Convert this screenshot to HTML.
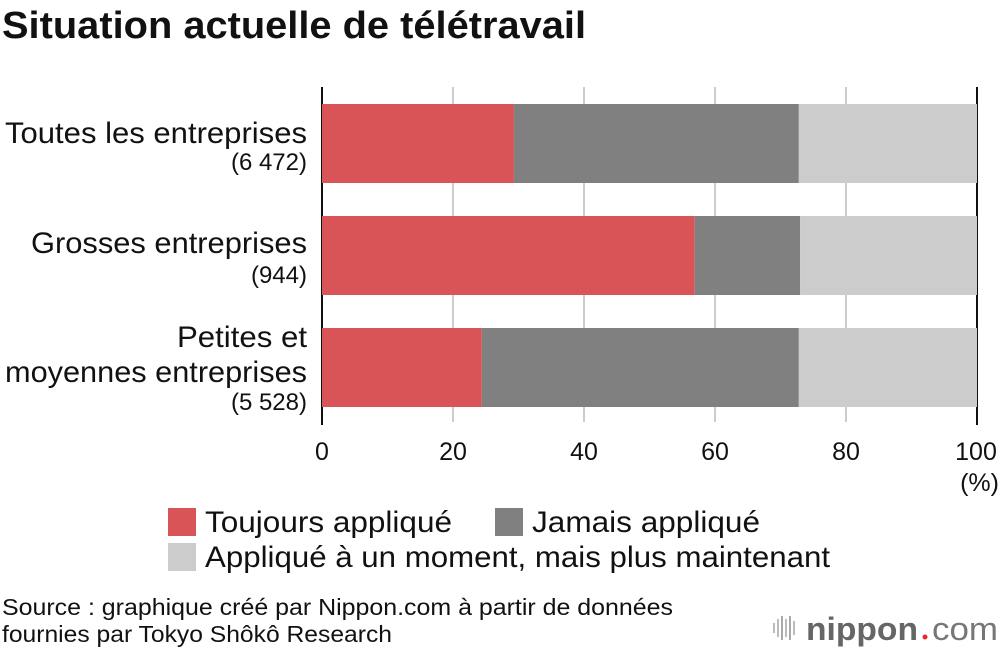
<!DOCTYPE html>
<html><head><meta charset="utf-8"><style>
body{margin:0;background:#fff;font-family:"Liberation Sans",Arial,sans-serif;}
svg text{font-family:"Liberation Sans",Arial,sans-serif;}
</style></head><body>
<svg id="chart" width="1000" height="652" viewBox="0 0 1000 652">
<text x="2" y="38" font-size="38" font-weight="bold" fill="#111" textLength="584" lengthAdjust="spacingAndGlyphs">Situation actuelle de télétravail</text>
<g id="grid"></g>
<g id="bars"></g>
<g font-size="30" fill="#111" text-anchor="end">
<text x="307" y="143" textLength="302" lengthAdjust="spacingAndGlyphs">Toutes les entreprises</text>
<text x="307" y="170" font-size="24">(6 472)</text>
<text x="307" y="253" textLength="276" lengthAdjust="spacingAndGlyphs">Grosses entreprises</text>
<text x="307" y="283" font-size="24">(944)</text>
<text x="307" y="347" textLength="130" lengthAdjust="spacingAndGlyphs">Petites et</text>
<text x="307" y="382" textLength="302" lengthAdjust="spacingAndGlyphs">moyennes entreprises</text>
<text x="307" y="410" font-size="24">(5 528)</text>
</g>
<g id="ticks"></g>
<text x="999" y="491" font-size="25" text-anchor="end" fill="#111">(%)</text>
<g>
<rect x="168" y="508" width="28" height="28" fill="#d95456"/>
<text x="205" y="532" font-size="30" fill="#111" textLength="247" lengthAdjust="spacingAndGlyphs">Toujours appliqué</text>
<rect x="495" y="508" width="28" height="28" fill="#808080"/>
<text x="532" y="532" font-size="30" fill="#111" textLength="228" lengthAdjust="spacingAndGlyphs">Jamais appliqué</text>
<rect x="168" y="543" width="28" height="28" fill="#cccccc"/>
<text x="205" y="567" font-size="30" fill="#111" textLength="625" lengthAdjust="spacingAndGlyphs">Appliqué à un moment, mais plus maintenant</text>
</g>
<text x="2" y="615" font-size="23" fill="#111" textLength="671" lengthAdjust="spacingAndGlyphs">Source : graphique créé par Nippon.com à partir de données</text>
<text x="2" y="642" font-size="23" fill="#111" textLength="390" lengthAdjust="spacingAndGlyphs">fournies par Tokyo Shôkô Research</text>
<g>
<rect x="773" y="623" width="2" height="10" fill="#bbb"/><rect x="777" y="619" width="2" height="18" fill="#bbb"/><rect x="781" y="616" width="2" height="24" fill="#aaa"/><rect x="785" y="619" width="2" height="18" fill="#bbb"/><rect x="789" y="616" width="2" height="24" fill="#aaa"/><rect x="793" y="621" width="2" height="14" fill="#bbb"/>
<text x="806" y="640" font-size="32" font-weight="bold" fill="#666" textLength="112" lengthAdjust="spacingAndGlyphs">nippon</text>
<circle cx="925" cy="637" r="2.5" fill="#e8262e"/>
<text x="932" y="640" font-size="32" fill="#777" textLength="66" lengthAdjust="spacingAndGlyphs">com</text>
</g>
<script>
const categories=["Toutes les entreprises","Grosses entreprises","Petites et moyennes entreprises"];
const toujours=[29.3,56.9,24.4];
const jamais=[43.5,16.1,48.4];
const plusMaintenant=[27.2,27.0,27.2];
const ticks=[0,20,40,60,80,100];
const NS="http://www.w3.org/2000/svg";
const x0=322,x1=977,barH=79,rowTop=[104,216,328];
function xs(v){return x0+(x1-x0)*v/100;}
function mk(tag,attrs,parent){const e=document.createElementNS(NS,tag);for(const k in attrs)e.setAttribute(k,attrs[k]);parent.appendChild(e);return e;}
const grid=document.getElementById('grid'),bars=document.getElementById('bars'),tk=document.getElementById('ticks');
ticks.forEach(t=>{
 const edge=(t===0||t===100);
 const l=mk('line',{x1:xs(t),x2:xs(t),y1:87,y2:edge?425:422,stroke:edge?'#111':'#ccc','stroke-width':2},grid);
 
 
 const tx=mk('text',{x:xs(t)-(t===100?1:0),y:460,'font-size':25,'text-anchor':'middle',fill:'#111'},tk);
 tx.textContent=t;
 
 
});
const series=[[toujours,'#d95456','toujours'],[jamais,'#808080','jamais'],[plusMaintenant,'#cccccc','plus-maintenant']];
categories.forEach((c,i)=>{
 let acc=0;
 series.forEach(([arr,col,nm])=>{
  const r=mk('rect',{x:xs(acc),y:rowTop[i],width:xs(acc+arr[i])-xs(acc),height:barH,fill:col},bars);
  
  
  acc+=arr[i];
 });
});
</script>
</svg>
</body></html>
